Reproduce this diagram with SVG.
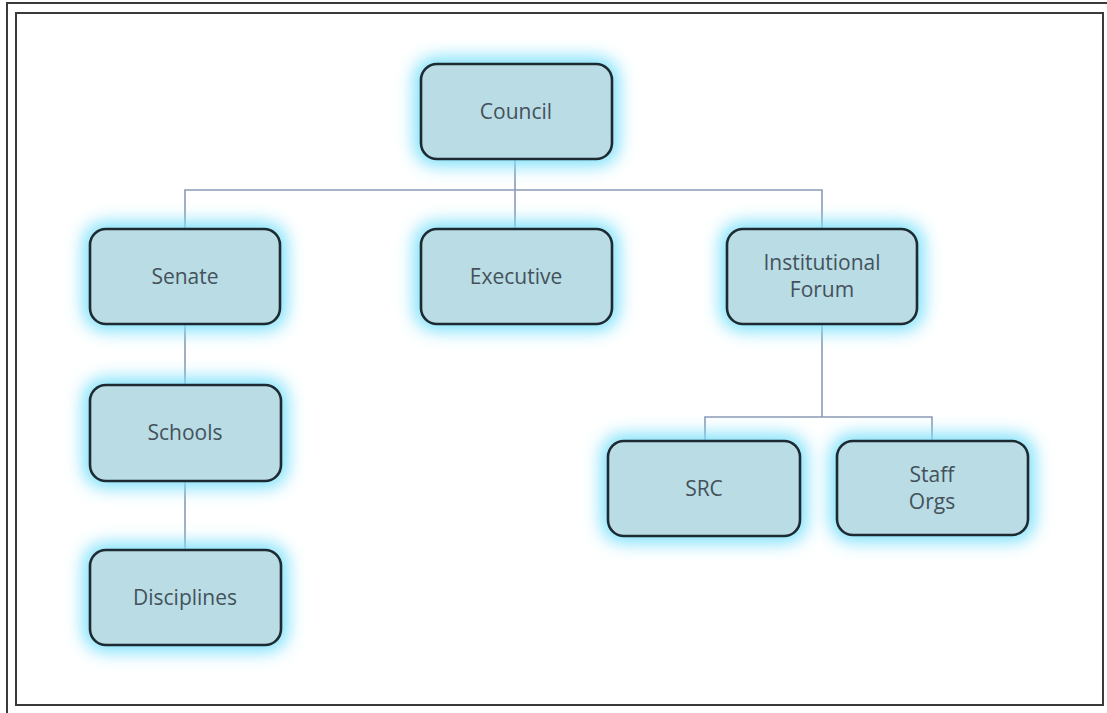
<svg xmlns="http://www.w3.org/2000/svg" width="1107" height="713" viewBox="0 0 1107 713">
  <defs>
    <filter id="halo" x="-40%" y="-60%" width="180%" height="220%">
      <feGaussianBlur stdDeviation="8.5"/>
    </filter>
    <style>
      .frame { fill: none; stroke: #3a3a3a; stroke-width: 2; }
      .glow { fill: #7ee1fa; filter: url(#halo); }
      .box { fill: #b9dce5; stroke: #1e2a31; stroke-width: 2.6; }
      .label { font-family: "Open Sans", "Liberation Sans", sans-serif; font-size: 21px; fill: #44515a; text-anchor: middle; }
      .link { fill: none; stroke: #8b9ab5; stroke-width: 1.6; }
    </style>
  </defs>

  <rect width="1107" height="713" fill="#ffffff"/>

  <!-- double page frame -->
  <path class="frame" d="M7 713 V3 H1107"/>
  <rect class="frame" x="16" y="13" width="1087" height="692"/>

  <!-- connectors -->
  <g id="connectors">
    <path class="link" d="M515 159 V229"/>
    <path class="link" d="M185 229 V190 H822 V229"/>
    <path class="link" d="M185 324 V385"/>
    <path class="link" d="M185 481 V550"/>
    <path class="link" d="M822 324 V417"/>
    <path class="link" d="M705 441 V417 H932 V441"/>
  </g>

  <!-- each node: blurred cyan halo (box grown by 7px), then the rounded box and its label -->
  <g id="council">
    <rect class="glow" x="414" y="57" width="205" height="109" rx="22"/>
    <rect class="box" x="421" y="64" width="191" height="95" rx="16"/>
    <text class="label" x="516" y="119">Council</text>
  </g>

  <g id="senate">
    <rect class="glow" x="83" y="222" width="204" height="109" rx="22"/>
    <rect class="box" x="90" y="229" width="190" height="95" rx="16"/>
    <text class="label" x="185" y="284">Senate</text>
  </g>

  <g id="executive">
    <rect class="glow" x="414" y="222" width="205" height="109" rx="22"/>
    <rect class="box" x="421" y="229" width="191" height="95" rx="16"/>
    <text class="label" x="516" y="284">Executive</text>
  </g>

  <g id="institutional-forum">
    <rect class="glow" x="720" y="222" width="204" height="109" rx="22"/>
    <rect class="box" x="727" y="229" width="190" height="95" rx="16"/>
    <text class="label" x="822" y="270">Institutional</text>
    <text class="label" x="822" y="297">Forum</text>
  </g>

  <g id="schools">
    <rect class="glow" x="83" y="378" width="205" height="110" rx="22"/>
    <rect class="box" x="90" y="385" width="191" height="96" rx="16"/>
    <text class="label" x="185" y="440">Schools</text>
  </g>

  <g id="disciplines">
    <rect class="glow" x="83" y="543" width="205" height="109" rx="22"/>
    <rect class="box" x="90" y="550" width="191" height="95" rx="16"/>
    <text class="label" x="185" y="605">Disciplines</text>
  </g>

  <g id="src">
    <rect class="glow" x="601" y="434" width="206" height="109" rx="22"/>
    <rect class="box" x="608" y="441" width="192" height="95" rx="16"/>
    <text class="label" x="704" y="496">SRC</text>
  </g>

  <g id="staff-orgs">
    <rect class="glow" x="830" y="434" width="205" height="108" rx="22"/>
    <rect class="box" x="837" y="441" width="191" height="94" rx="16"/>
    <text class="label" x="932" y="482">Staff</text>
    <text class="label" x="932" y="509">Orgs</text>
  </g>
</svg>
